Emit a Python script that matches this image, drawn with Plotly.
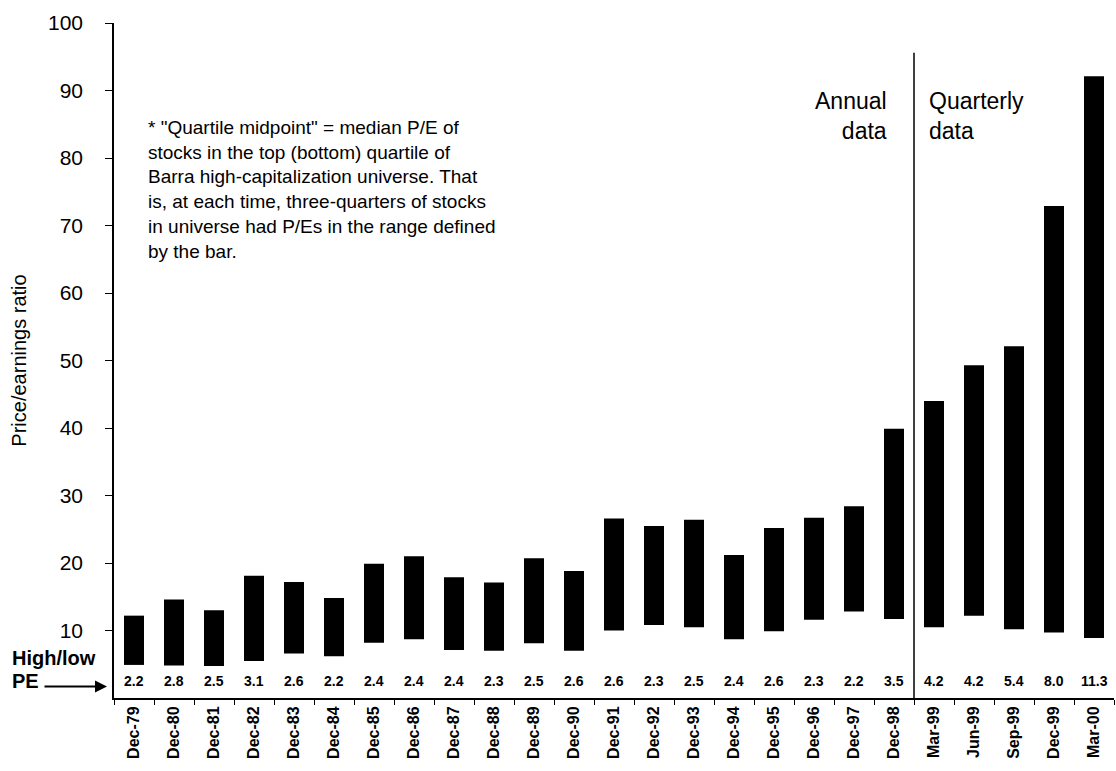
import plotly.graph_objects as go

# ---- data ----
categories = ["Dec-79", "Dec-80", "Dec-81", "Dec-82", "Dec-83", "Dec-84", "Dec-85",
              "Dec-86", "Dec-87", "Dec-88", "Dec-89", "Dec-90", "Dec-91", "Dec-92",
              "Dec-93", "Dec-94", "Dec-95", "Dec-96", "Dec-97", "Dec-98",
              "Mar-99", "Jun-99", "Sep-99", "Dec-99", "Mar-00"]
high_pe = [12.2, 14.6, 13.0, 18.1, 17.2, 14.8, 19.9, 21.0, 17.9, 17.1, 20.7, 18.8,
           26.6, 25.5, 26.4, 21.2, 25.2, 26.7, 28.4, 39.9, 44.0, 49.3, 52.1, 72.9, 92.1]
low_pe = [4.9, 4.8, 4.75, 5.5, 6.6, 6.2, 8.2, 8.7, 7.1, 7.0, 8.1, 7.0,
          10.0, 10.8, 10.5, 8.7, 9.9, 11.6, 12.8, 11.7, 10.5, 12.2, 10.2, 9.7, 8.9]
ratio_labels = ["2.2", "2.8", "2.5", "3.1", "2.6", "2.2", "2.4", "2.4", "2.4", "2.3",
                "2.5", "2.6", "2.6", "2.3", "2.5", "2.4", "2.6", "2.3", "2.2", "3.5",
                "4.2", "4.2", "5.4", "8.0", "11.3"]
y_ticks = [10, 20, 30, 40, 50, 60, 70, 80, 90, 100]
footnote_lines = [
    '* "Quartile midpoint" = median P/E of',
    'stocks in the top (bottom) quartile of',
    'Barra high-capitalization universe. That',
    'is, at each time, three-quarters of stocks',
    'in universe had P/Es in the range defined',
    'by the bar.',
]

FONT = "Liberation Sans, Arial, sans-serif"

fig = go.Figure()
fig.add_trace(go.Bar(
    x=categories,
    y=[h - l for h, l in zip(high_pe, low_pe)],
    base=low_pe,
    width=0.5,
    marker=dict(color="black", line=dict(width=0)),
    showlegend=False,
    hoverinfo="skip",
))

annotations = []
# ratio labels above the x-axis
for cat, lab in zip(categories, ratio_labels):
    annotations.append(dict(x=cat, y=2.5, xref="x", yref="y", text=f"<b>{lab}</b>",
                            showarrow=False, font=dict(size=14, color="black", family=FONT),
                            xanchor="center", yanchor="middle"))

# footnote
annotations.append(dict(x=0.032, y=86.3, xref="paper", yref="y",
                        text="<br>".join(footnote_lines), showarrow=False, align="left",
                        xanchor="left", yanchor="top",
                        font=dict(size=19, color="black", family=FONT)))
# Annual / Quarterly
annotations.append(dict(x=18.87, y=90.6, xref="x", yref="y", text="Annual<br>data",
                        showarrow=False, align="right", xanchor="right", yanchor="top",
                        font=dict(size=23, color="black", family=FONT)))
annotations.append(dict(x=19.83, y=90.6, xref="x", yref="y", text="Quarterly<br>data",
                        showarrow=False, align="left", xanchor="left", yanchor="top",
                        font=dict(size=23, color="black", family=FONT)))
# High/low PE label with arrow
annotations.append(dict(x=-0.104, y=5.9, xref="paper", yref="y", text="<b>High/low</b>",
                        showarrow=False, xanchor="left", yanchor="middle",
                        font=dict(size=20, color="black", family=FONT)))
annotations.append(dict(x=-0.104, y=2.5, xref="paper", yref="y", text="<b>PE</b>",
                        showarrow=False, xanchor="left", yanchor="middle",
                        font=dict(size=20, color="black", family=FONT)))
annotations.append(dict(x=-0.007, y=1.7, xref="paper", yref="y", text="",
                        showarrow=True, axref="pixel", ayref="pixel", ax=-64, ay=0,
                        arrowhead=2, arrowsize=1.2, arrowwidth=2, arrowcolor="black"))

fig.update_layout(
    width=1116, height=771,
    margin=dict(l=114, r=2, t=23, b=73),
    paper_bgcolor="white", plot_bgcolor="white",
    font=dict(family=FONT, color="black"),
    bargap=0.5,
    annotations=annotations,
    shapes=[dict(type="line", xref="x", yref="y", x0=19.5, x1=19.5, y0=-0.6, y1=95.6,
                 line=dict(color="black", width=1.5))],
    xaxis=dict(
        type="category", range=[-0.5, 24.5],
        showline=True, linecolor="black", linewidth=2,
        ticks="outside", ticklen=5, tickcolor="black", tickson="boundaries",
        tickangle=-90, tickfont=dict(size=16, color="black", family=FONT, weight="bold"),
        showgrid=False, zeroline=False, fixedrange=True,
    ),
    yaxis=dict(
        range=[0, 100], tickvals=y_ticks,
        showline=True, linecolor="black", linewidth=1.5,
        ticks="outside", ticklen=7, tickcolor="black",
        ticklabelstandoff=18,
        tickfont=dict(size=21, color="black", family=FONT),
        showgrid=False, zeroline=False,
        title=dict(text="Price/earnings ratio", standoff=16,
                   font=dict(size=20, color="black", family=FONT)),
    ),
)

fig.write_html("out.html", config={"displayModeBar": False},
               post_script="document.body.style.margin='0';document.body.style.overflow='hidden';")
